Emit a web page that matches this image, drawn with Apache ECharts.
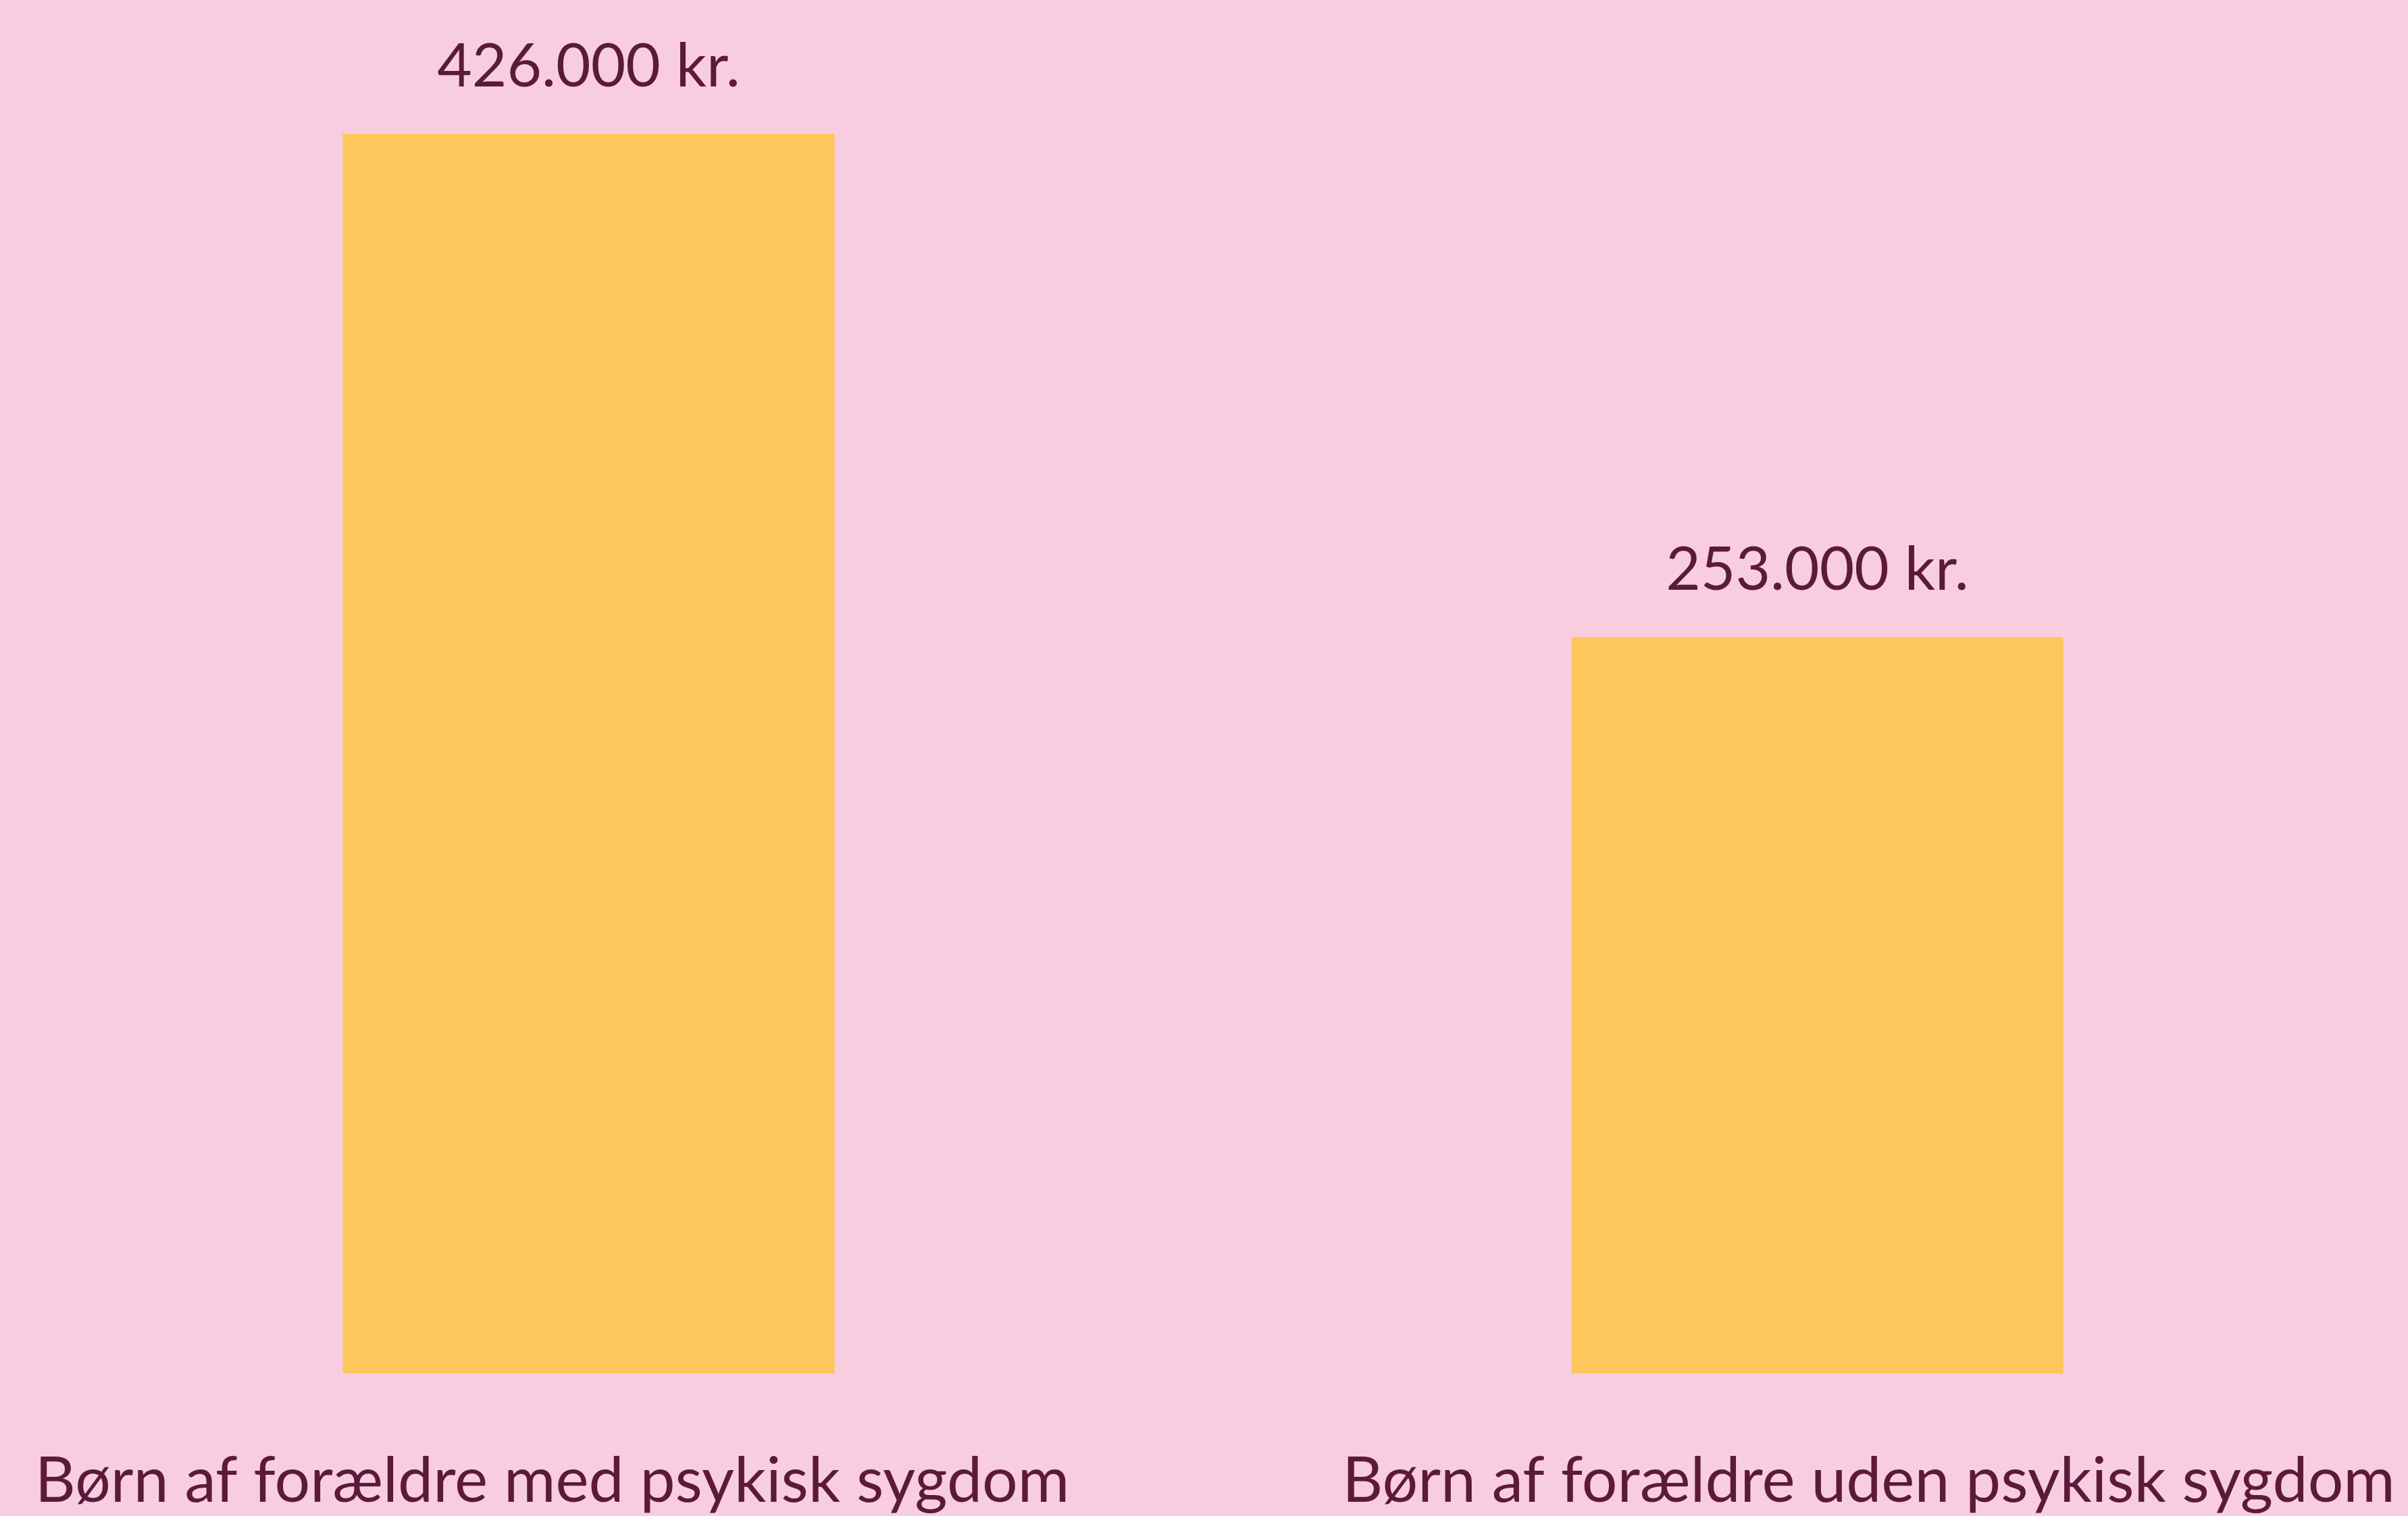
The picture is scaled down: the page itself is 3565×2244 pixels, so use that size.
<!DOCTYPE html>
<html>
<head>
<meta charset="utf-8">
<script src="https://cdn.jsdelivr.net/npm/echarts@6/dist/echarts.min.js"></script>
<style>
    html, body { margin: 0; padding: 0; background: #f8cde0; }
    #chart { width: 3565px; height: 2244px; }
</style>
</head>
<body>
<div id="chart"></div>
<script>
// kategorier og beløb (1.000 kr.)
var categories = ['Børn af forældre med psykisk sygdom', 'Børn af forældre uden psykisk sygdom']
var values = [426, 253]
var valueLabels = ['426.000 kr.', '253.000 kr.']
// small nudges so the axis texts sit where they do in the original
var labelPadding = [[0, 108, 0, 0], [0, 0, 0, 152]]

var textColor = '#5c1a3a'

var chart = echarts.init(document.getElementById('chart'))
chart.setOption({
    backgroundColor: '#f8cde0',
    animation: false,
    grid: {
        left: -38,
        right: -35,
        top: 198,
        bottom: 211,
        outerBoundsMode: 'none',
        containLabel: false
    },
    xAxis: {
        type: 'category',
        data: categories.map(function (c, i) {
            return { value: c, textStyle: { padding: labelPadding[i] } }
        }),
        axisLine: { show: false },
        axisTick: { show: false },
        axisLabel: {
            color: textColor,
            fontFamily: 'Lato',
            fontSize: 93,
            margin: 113,
            interval: 0
        }
    },
    yAxis: {
        type: 'value',
        min: 0,
        max: 426,
        show: false,
        splitLine: { show: false }
    },
    series: [{
        type: 'bar',
        data: values,
        barWidth: 728,
        itemStyle: { color: '#fdc75b' },
        label: {
            show: true,
            position: 'top',
            distance: 54,
            color: textColor,
            fontFamily: 'Lato',
            fontSize: 89,
            formatter: function (p) {
                return valueLabels[p.dataIndex]
            }
        }
    }]
})
</script>
</body>
</html>
